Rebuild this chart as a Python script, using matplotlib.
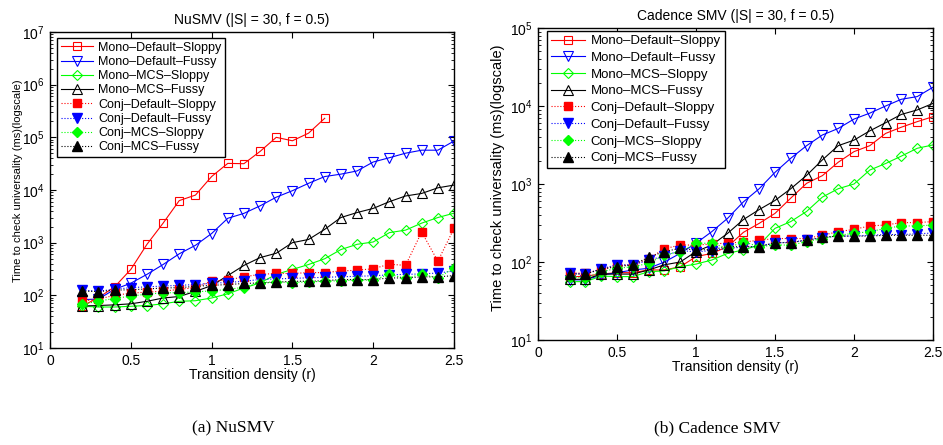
import matplotlib

matplotlib.use("Agg")
import matplotlib.pyplot as plt  # noqa: E402

plt.rcParams["font.family"] = ["Liberation Sans", "DejaVu Sans"]

RED = "#ff0000"
BLUE = "#0000ff"
GREEN = "#00ff00"
BLACK = "#000000"

LABELS = [
    "Mono–Default–Sloppy",
    "Mono–Default–Fussy",
    "Mono–MCS–Sloppy",
    "Mono–MCS–Fussy",
    "Conj–Default–Sloppy",
    "Conj–Default–Fussy",
    "Conj–MCS–Sloppy",
    "Conj–MCS–Fussy",
]

# transition density r = 0.2 .. 2.5
r = [0.2, 0.3, 0.4, 0.5, 0.6, 0.7, 0.8, 0.9, 1.0, 1.1, 1.2, 1.3,
     1.4, 1.5, 1.6, 1.7, 1.8, 1.9, 2.0, 2.1, 2.2, 2.3, 2.4, 2.5]
r_nusmv_mds = r[:16]  # Mono-Default-Sloppy stops at r = 1.7 (timeouts)

# --- NuSMV (ms) ---
nu_mono_def_sloppy = [63, 90, 145, 310, 930, 2350, 6300, 8000, 18000, 32000,
                      31600, 54000, 100000, 86000, 120000, 230000]
nu_mono_def_fussy = [83, 85, 130, 170, 250, 385, 615, 890, 1490, 2900, 3600, 5000,
                     7300, 9700, 13400, 18000, 20000, 23000, 34000, 41000, 50000,
                     57000, 57000, 85000]
nu_mono_mcs_sloppy = [62, 60, 60, 62, 64, 69, 77, 79, 89, 107, 138, 172,
                      250, 310, 385, 495, 740, 930, 1030, 1550, 1730, 2350, 3000, 3630]
nu_mono_mcs_fussy = [63, 64, 66, 69, 77, 89, 95, 119, 153, 237, 370, 520,
                     630, 1000, 1150, 1790, 3000, 3730, 4470, 6000, 7700, 8600, 11000, 12400]
nu_conj_def_sloppy = [77, 85, 100, 110, 115, 120, 130, 140, 187, 195, 225, 250,
                      260, 260, 270, 270, 290, 300, 320, 390, 370, 1590, 445, 1860]
nu_conj_def_fussy = [125, 120, 130, 140, 145, 150, 155, 160, 170, 175, 185, 200,
                     205, 210, 215, 220, 225, 230, 235, 245, 250, 255, 265, 290]
nu_conj_mcs_sloppy = [67, 78, 87, 97, 105, 112, 112, 117, 121, 130, 142, 175,
                      180, 175, 180, 185, 190, 195, 195, 250, 210, 250, 215, 330]
nu_conj_mcs_fussy = [120, 118, 125, 128, 132, 138, 140, 148, 155, 160, 168, 172,
                     177, 185, 185, 190, 199, 199, 199, 214, 214, 224, 224, 237]

# --- Cadence SMV (ms) ---
cs_mono_def_sloppy = [64, 66, 70, 73, 73, 79, 79, 87, 117, 129, 157, 240,
                      313, 420, 660, 1020, 1280, 1900, 2600, 3100, 4450, 5350, 6300, 7300]
cs_mono_def_fussy = [59, 59, 68, 73, 79, 83, 100, 129, 174, 245, 363, 590,
                     870, 1410, 2140, 3100, 4250, 5150, 6800, 8100, 10000, 12200, 13200, 17400]
cs_mono_mcs_sloppy = [56, 56, 66, 65, 65, 75, 77, 87, 94, 106, 129, 143,
                      165, 270, 330, 445, 680, 870, 1000, 1510, 1830, 2280, 2870, 3170]
cs_mono_mcs_fussy = [60, 60, 70, 70, 70, 79, 92, 100, 136, 165, 233, 350,
                     470, 615, 870, 1290, 2040, 3100, 3650, 4800, 6100, 7800, 8900, 10800]
cs_conj_def_sloppy = [72, 72, 80, 90, 92, 110, 148, 165, 165, 170, 175, 180,
                      190, 200, 200, 200, 220, 245, 262, 290, 298, 320, 320, 330]
cs_conj_def_fussy = [72, 70, 82, 92, 92, 105, 120, 140, 135, 140, 150, 155,
                     160, 175, 180, 190, 205, 215, 215, 220, 225, 225, 230, 235]
cs_conj_mcs_sloppy = [65, 62, 75, 83, 87, 96, 123, 136, 174, 174, 150, 182,
                      157, 165, 165, 182, 200, 220, 233, 245, 270, 290, 290, 298]
cs_conj_mcs_fussy = [70, 70, 81, 87, 92, 115, 136, 150, 142, 145, 157, 157,
                     157, 177, 177, 191, 207, 215, 215, 215, 220, 220, 220, 220]

STYLES = [(RED, "s", 5.5), (BLUE, "v", 7), (GREEN, "D", 5.5), (BLACK, "^", 7)]


def _panel(fig, rect, title, mono, conj, ylim, leg_anchor, leg_size, leg_space,
           ylab_size, ylab_xy):
    ax = fig.add_axes(rect)
    for (xs, ys), (c, m, ms) in zip(mono, STYLES):
        ax.plot(xs, ys, color=c, marker=m, markersize=ms, markerfacecolor="none",
                markeredgewidth=0.8, linewidth=0.8)
    for (xs, ys), (c, m, ms) in zip(conj, STYLES):
        ax.plot(xs, ys, color=c, marker=m, markersize=ms, markerfacecolor=c,
                markeredgecolor=c, linestyle=":", linewidth=0.8)
    ax.set_yscale("log")
    ax.set_xlim(0, 2.5)
    ax.set_ylim(*ylim)
    ax.set_xticks([0, 0.5, 1, 1.5, 2, 2.5])
    ax.set_xticklabels(["0", "0.5", "1", "1.5", "2", "2.5"])
    ax.tick_params(which="both", direction="in", top=True, right=True,
                   labelsize=10, pad=4)
    ax.tick_params(which="major", length=4)
    ax.tick_params(which="minor", length=2)
    for s in ax.spines.values():
        s.set_linewidth(1.0)
    ax.set_title(title, fontsize=10, pad=6)
    ax.set_xlabel("Transition density (r)", fontsize=10, labelpad=0)
    ax.set_ylabel("Time to check universality (ms)(logscale)", fontsize=ylab_size)
    ax.yaxis.set_label_coords(*ylab_xy)
    leg = ax.legend(LABELS, loc="upper left", bbox_to_anchor=leg_anchor,
                    borderaxespad=0, fontsize=leg_size, fancybox=False,
                    edgecolor=BLACK, framealpha=1, handlelength=2.6,
                    handletextpad=0.4, labelspacing=leg_space, borderpad=0.3)
    leg.get_frame().set_linewidth(1.0)
    return ax


fig = plt.figure(figsize=(9.43, 4.45), dpi=100)
W, H = 943, 445

_panel(
    fig,
    [50 / W, (H - 348) / H, 404 / W, 316 / H],
    "NuSMV (|S| = 30, f = 0.5)",
    [(r_nusmv_mds, nu_mono_def_sloppy), (r, nu_mono_def_fussy),
     (r, nu_mono_mcs_sloppy), (r, nu_mono_mcs_fussy)],
    [(r, nu_conj_def_sloppy), (r, nu_conj_def_fussy),
     (r, nu_conj_mcs_sloppy), (r, nu_conj_mcs_fussy)],
    (10, 1e7),
    (7 / 404, 1 - 6 / 316),
    9,
    0.18,
    8,
    (-0.067, 0.53),
)

_panel(
    fig,
    [538 / W, (H - 340) / H, 395 / W, 312 / H],
    "Cadence SMV (|S| = 30, f = 0.5)",
    [(r, cs_mono_def_sloppy), (r, cs_mono_def_fussy),
     (r, cs_mono_mcs_sloppy), (r, cs_mono_mcs_fussy)],
    [(r, cs_conj_def_sloppy), (r, cs_conj_def_fussy),
     (r, cs_conj_mcs_sloppy), (r, cs_conj_mcs_fussy)],
    (10, 1e5),
    (9 / 395, 1 - 3 / 312),
    9.5,
    0.34,
    10.5,
    (-0.084, 0.52),
)

fig.text(233 / W, 1 - 428 / H, "(a) NuSMV", family="Liberation Serif",
         fontsize=12.5, ha="center", va="center")
fig.text(717 / W, 1 - 428 / H, "(b) Cadence SMV", family="Liberation Serif",
         fontsize=12.5, ha="center", va="center")

fig.savefig("out.png", dpi=100, facecolor="white")
